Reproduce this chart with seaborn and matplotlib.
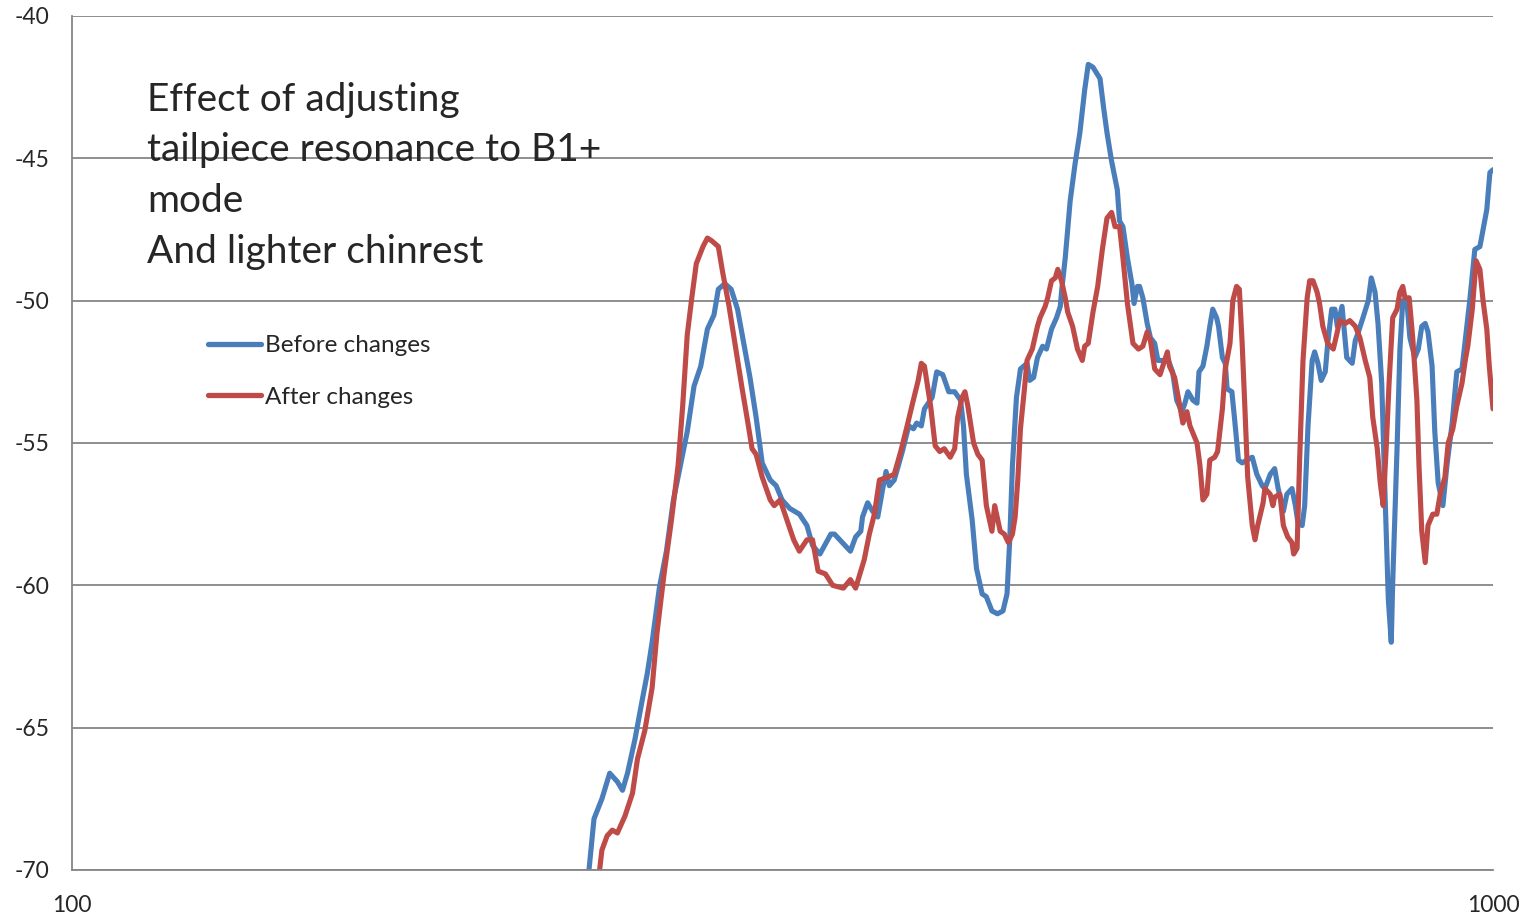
import numpy as np
import pandas as pd
import matplotlib
matplotlib.use("Agg")
import matplotlib.pyplot as plt
import seaborn as sns

# frequency (Hz) and level (dB)
before_freq = [231, 233, 236, 239, 242, 244, 246, 249, 252, 254, 256, 259, 262, 265, 268, 271, 274, 277, 280, 283,
               285, 288, 291, 294, 297, 300, 303, 306, 310, 313, 316, 320, 325, 329, 332, 336, 342, 344, 353, 356,
               359, 360, 363, 366, 369, 372, 374, 376, 379, 384, 388, 391, 393, 396, 398, 403, 406, 410, 414, 418,
               422, 424, 426, 430, 433, 437, 440, 444, 448, 452, 455, 457, 459, 462, 465, 470, 472, 475, 478, 482,
               485, 489, 493, 496, 497, 500, 504, 508, 512, 516, 519, 523, 526, 529, 532, 535, 539, 544, 546, 549,
               553, 557, 559, 562, 564, 567, 571, 574, 578, 581, 585, 591, 595, 599, 604, 607, 610, 615, 619, 621,
               625, 629, 632, 635, 639, 641, 645, 648, 650, 655, 658, 662, 666, 671, 677, 682, 688, 691, 697, 702,
               706, 712, 716, 722, 726, 729, 734, 737, 741, 746, 749, 753, 757, 762, 765, 770, 774, 777, 783, 789,
               796, 800, 804, 810, 817, 821, 826, 830, 835, 839, 844, 848, 850, 856, 860, 864, 870, 874, 881, 886,
               891, 896, 900, 906, 910, 915, 922, 928, 936, 943, 951, 956, 963, 971, 979, 984, 990, 995, 1000]
before_db = [-70.1, -68.2, -67.5, -66.6, -66.9, -67.2, -66.6, -65.4, -64.0, -63.1, -62.0, -60.1, -58.8, -57.0, -55.8,
             -54.6, -53.0, -52.3, -51.0, -50.5, -49.6, -49.4, -49.6, -50.3, -51.5, -52.7, -54.1, -55.7, -56.3, -56.5,
             -57.0, -57.3, -57.5, -57.9, -58.6, -58.9, -58.2, -58.2, -58.8, -58.3, -58.1, -57.6, -57.1, -57.4, -57.6,
             -56.6, -56.0, -56.5, -56.3, -55.3, -54.4, -54.5, -54.3, -54.4, -53.8, -53.4, -52.5, -52.6, -53.2, -53.2,
             -53.5, -54.4, -56.1, -57.7, -59.4, -60.3, -60.4, -60.9, -61.0, -60.9, -60.3, -58.4, -55.8, -53.4, -52.4,
             -52.2, -52.8, -52.7, -52.0, -51.6, -51.7, -51.0, -50.6, -50.2, -49.7, -48.5, -46.5, -45.2, -44.1, -42.6,
             -41.7, -41.8, -42.0, -42.2, -43.2, -44.1, -45.1, -46.1, -47.2, -47.4, -48.5, -49.4, -50.1, -49.5, -49.5,
             -49.9, -50.8, -51.3, -51.5, -52.1, -52.1, -52.1, -52.5, -53.5, -53.9, -53.6, -53.2, -53.5, -53.6, -52.5,
             -52.3, -51.6, -50.9, -50.3, -50.6, -50.9, -52.0, -52.2, -53.1, -53.2, -54.2, -55.6, -55.7, -55.6, -55.5,
             -56.1, -56.5, -56.6, -56.1, -55.9, -56.6, -57.4, -56.8, -56.6, -57.2, -57.8, -57.9, -57.2, -54.4, -52.1,
             -51.8, -52.2, -52.8, -52.5, -51.5, -50.3, -50.3, -50.9, -50.2, -52.0, -52.2, -51.4, -51.1, -50.6, -50.0,
             -49.2, -49.7, -50.8, -52.9, -56.4, -60.5, -62.0, -59.9, -55.2, -51.7, -50.0, -50.1, -51.3, -52.0, -51.7,
             -50.9, -50.8, -51.1, -52.3, -54.6, -56.4, -57.2, -55.8, -54.3, -52.5, -52.4, -51.4, -50.0, -48.2, -48.1,
             -47.5, -46.8, -45.5, -45.4]

after_freq = [235, 236, 238, 240, 242, 245, 248, 250, 253, 256, 258, 261, 264, 267, 269, 271, 273, 275, 278, 280,
              282, 285, 287, 290, 293, 296, 299, 301, 303, 306, 310, 312, 315, 319, 322, 325, 329, 332, 335, 339,
              343, 349, 353, 356, 359, 361, 364, 367, 370, 375, 379, 383, 387, 390, 394, 396, 398, 402, 405, 408,
              411, 415, 418, 420, 423, 425, 427, 431, 434, 437, 440, 444, 446, 450, 453, 456, 459, 461, 463, 465,
              468, 470, 474, 478, 480, 484, 486, 489, 492, 494, 497, 500, 502, 506, 510, 514, 516, 519, 523, 527,
              531, 535, 539, 542, 546, 549, 553, 558, 563, 567, 571, 574, 578, 583, 590, 592, 597, 602, 605, 609,
              612, 619, 622, 625, 629, 632, 637, 640, 645, 648, 653, 656, 660, 663, 666, 669, 672, 677, 680, 683,
              689, 691, 697, 700, 702, 708, 712, 717, 722, 724, 728, 731, 735, 740, 743, 747, 752, 755, 759, 765,
              772, 777, 780, 787, 793, 800, 806, 813, 819, 823, 829, 833, 837, 841, 845, 850, 856, 860, 864, 867,
              873, 878, 884, 887, 891, 896, 900, 907, 913, 918, 925, 930, 937, 943, 951, 956, 960, 967, 973, 979,
              984, 990, 994, 1000]
after_db = [-70.1, -69.3, -68.8, -68.6, -68.7, -68.1, -67.3, -66.1, -65.1, -63.6, -61.7, -59.6, -57.8, -55.8, -53.7,
            -51.2, -49.9, -48.7, -48.1, -47.8, -47.9, -48.1, -49.0, -50.2, -51.6, -53.0, -54.3, -55.2, -55.4, -56.2,
            -57.0, -57.2, -57.0, -57.8, -58.4, -58.8, -58.4, -58.4, -59.5, -59.6, -60.0, -60.1, -59.8, -60.1, -59.5,
            -59.1, -58.2, -57.5, -56.3, -56.2, -56.1, -55.3, -54.4, -53.7, -52.8, -52.2, -52.3, -53.7, -55.1, -55.3,
            -55.2, -55.5, -55.2, -54.1, -53.4, -53.2, -53.7, -55.0, -55.4, -55.6, -57.2, -58.1, -57.2, -58.1, -58.2,
            -58.5, -58.2, -57.6, -56.3, -54.5, -53.1, -52.1, -51.7, -50.9, -50.6, -50.2, -49.9, -49.3, -49.2, -48.9,
            -49.3, -49.9, -50.4, -50.9, -51.7, -52.1, -51.6, -51.5, -50.4, -49.5, -48.2, -47.1, -46.9, -47.4, -47.4,
            -48.5, -50.1, -51.5, -51.7, -51.6, -51.1, -51.4, -52.4, -52.6, -51.8, -52.3, -52.7, -53.7, -54.3, -53.9,
            -54.4, -55.0, -55.8, -57.0, -56.8, -55.6, -55.5, -55.3, -53.8, -52.4, -51.5, -50.0, -49.5, -49.6, -51.5,
            -53.8, -56.2, -57.9, -58.4, -57.9, -57.1, -56.6, -56.8, -57.2, -56.9, -56.8, -57.9, -58.3, -58.5, -58.9,
            -58.7, -55.6, -52.1, -49.9, -49.3, -49.3, -49.7, -50.1, -50.9, -51.5, -51.7, -51.1, -50.7, -50.8, -50.7,
            -50.9, -51.3, -52.1, -52.7, -54.1, -55.2, -56.4, -57.2, -55.2, -52.9, -50.6, -50.3, -49.7, -49.5, -49.9,
            -49.9, -51.3, -53.5, -55.8, -58.1, -59.2, -57.9, -57.5, -57.5, -56.8, -56.2, -55.0, -54.5, -53.7, -52.9,
            -52.1, -51.6, -50.3, -48.6, -48.9, -50.0, -51.0, -52.3, -53.8]

series_names = ["Before changes", "After changes"]
y_ticks = [-70, -65, -60, -55, -50, -45, -40]
x_ticks = [100, 1000]
x_labels = ["100", "1000"]
note_text = "Effect of adjusting\ntailpiece resonance to B1+\nmode\nAnd lighter chinrest"

blue = "#4a7ebb"
red = "#be4b48"
grid_grey = "#868686"

sns.set_style("white")
plt.rcParams['font.family'] = ['Lato', 'DejaVu Sans']

df = pd.concat([
    pd.DataFrame({"freq": before_freq, "db": before_db, "series": series_names[0]}),
    pd.DataFrame({"freq": after_freq, "db": after_db, "series": series_names[1]}),
])

fig = plt.figure(figsize=(15.25, 9.17), dpi=100)
ax = fig.add_axes([72 / 1525, 47 / 917, 1421 / 1525, 854 / 917])

sns.lineplot(data=df, x="freq", y="db", hue="series", palette=[blue, red],
             linewidth=3.7, sort=False, estimator=None, ax=ax)

ax.set_xscale("log")
ax.set_xlim(100, 1000)
ax.set_ylim(-70, -40)
ax.set_xticks(x_ticks)
ax.set_xticklabels(x_labels)
ax.xaxis.set_minor_locator(matplotlib.ticker.NullLocator())
ax.set_yticks(y_ticks)
ax.set_yticklabels([str(v) for v in y_ticks])
ax.set_xlabel("")
ax.set_ylabel("")

ax.yaxis.grid(True, color=grid_grey, linewidth=1.3)
ax.xaxis.grid(False)
for side in ["top", "right"]:
    ax.spines[side].set_visible(False)
for side in ["left", "bottom"]:
    ax.spines[side].set_color(grid_grey)
    ax.spines[side].set_linewidth(1.3)
ax.tick_params(axis="y", length=7, width=1.3, color=grid_grey, labelsize=16.5, pad=9)
ax.tick_params(axis="x", length=6, width=1.3, color=grid_grey, labelsize=16.5, pad=12)

leg = ax.legend(frameon=False, loc="upper left", bbox_to_anchor=(208 / 1525, 1 - 335 / 917),
                bbox_transform=fig.transFigure, fontsize=17.5, handlelength=2.2, handletextpad=0.15,
                labelspacing=1.27, borderpad=0, borderaxespad=0)
for line in leg.get_lines():
    line.set_linewidth(3.8)

fig.text(147 / 1525, 1 - 82 / 917, note_text, fontsize=28, va="top", ha="left", linespacing=1.5)

fig.savefig("out.png", dpi=100)
